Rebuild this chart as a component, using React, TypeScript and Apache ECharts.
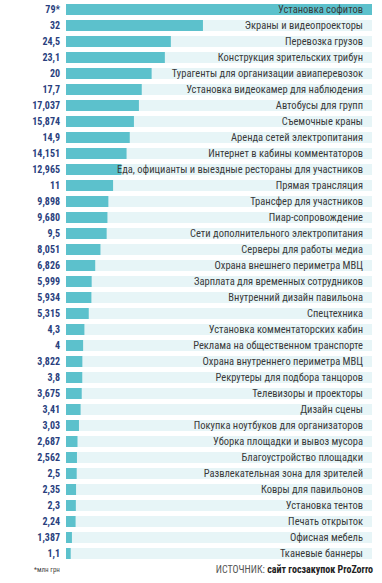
import React, { useEffect, useRef } from "react";
import * as echarts from "echarts";

const categories = [
  "Установка софитов",
  "Экраны и видеопроекторы",
  "Перевозка грузов",
  "Конструкция зрительских трибун",
  "Турагенты для организации авиаперевозок",
  "Установка видеокамер для наблюдения",
  "Автобусы для групп",
  "Съемочные краны",
  "Аренда сетей электропитания",
  "Интернет в кабины комментаторов",
  "Еда, официанты и выездные рестораны для участников",
  "Прямая трансляция",
  "Трансфер для участников",
  "Пиар-сопровождение",
  "Сети дополнительного электропитания",
  "Серверы для работы медиа",
  "Охрана внешнего периметра МВЦ",
  "Зарплата для временных сотрудников",
  "Внутренний дизайн павильона",
  "Спецтехника",
  "Установка комментаторских кабин",
  "Реклама на общественном транспорте",
  "Охрана внутреннего периметра МВЦ",
  "Рекрутеры для подбора танцоров",
  "Телевизоры и проекторы",
  "Дизайн сцены",
  "Покупка ноутбуков для организаторов",
  "Уборка площадки и вывоз мусора",
  "Благоустройство площадки",
  "Развлекательная зона для зрителей",
  "Ковры для павильонов",
  "Установка тентов",
  "Печать открыток",
  "Офисная мебель",
  "Тканевые баннеры",
];

const values = [
  79, 32, 24.5, 23.1, 20, 17.7, 17.037, 15.874, 14.9, 14.151, 12.965, 11, 9.898,
  9.68, 9.5, 8.051, 6.826, 5.999, 5.934, 5.315, 4.3, 4, 3.822, 3.8, 3.675, 3.41,
  3.03, 2.687, 2.562, 2.5, 2.35, 2.3, 2.24, 1.387, 1.1,
];

const valueLabels = [
  "79*", "32", "24,5", "23,1", "20", "17,7", "17,037", "15,874", "14,9", "14,151",
  "12,965", "11", "9,898", "9,680", "9,5", "8,051", "6,826", "5,999", "5,934",
  "5,315", "4,3", "4", "3,822", "3,8", "3,675", "3,41", "3,03", "2,687", "2,562",
  "2,5", "2,35", "2,3", "2,24", "1,387", "1,1",
];

const AXIS_MAX = 71.5;
const FONT = "'Roboto Condensed', 'DejaVu Sans Condensed', 'Liberation Sans Narrow', sans-serif";

export default function App() {
  const ref = useRef<HTMLDivElement>(null);
  useEffect(() => {
    if (!ref.current) return;
    const chart = echarts.init(ref.current, null, { renderer: "svg" });
    chart.setOption({
      animation: false,
      backgroundColor: "#ffffff",
      grid: { left: 66, right: 10, top: 1.5, bottom: 21.5, containLabel: false },
      xAxis: { type: "value", min: 0, max: AXIS_MAX, show: false },
      yAxis: {
        type: "category",
        inverse: true,
        data: valueLabels,
        axisLine: { show: false },
        axisTick: { show: false },
        axisLabel: {
          interval: 0,
          margin: 6,
          fontFamily: FONT,
          fontWeight: "bold",
          fontSize: 10,
          color: "#2a3f7e",
        },
      },
      series: [
        {
          type: "bar",
          data: values,
          barWidth: 11,
          clip: true,
          itemStyle: { color: "#5cc1cc" },
          showBackground: true,
          backgroundStyle: { color: "#e7f5f7" },
          z: 1,
        },
        {
          type: "bar",
          data: categories.map(() => AXIS_MAX),
          barWidth: 11,
          barGap: "-100%",
          itemStyle: { color: "rgba(0,0,0,0)" },
          silent: true,
          z: 3,
          label: {
            show: true,
            position: "insideRight",
            distance: 9,
            formatter: (p: any) => categories[p.dataIndex],
            fontFamily: FONT,
            fontSize: 10.5,
            color: "#3a3a3a",
          },
        },
      ],
      graphic: [
        {
          type: "text",
          left: 34,
          top: 566,
          style: { text: "*млн грн", fontFamily: FONT, fontSize: 7, fill: "#444" },
        },
        {
          type: "text",
          right: 9,
          top: 564,
          style: {
            rich: {
              a: { fontFamily: FONT, fontSize: 10, fill: "#555", fontWeight: "normal" },
              b: { fontFamily: FONT, fontSize: 10, fill: "#222", fontWeight: "bold" },
            },
            text: "{a|ИСТОЧНИК: }{b|сайт госзакупок ProZorro}",
          },
        },
      ],
    });
    return () => chart.dispose();
  }, []);
  return <div ref={ref} style={{ width: 382, height: 583, position: "absolute", left: 0, top: 0 }} />;
}
